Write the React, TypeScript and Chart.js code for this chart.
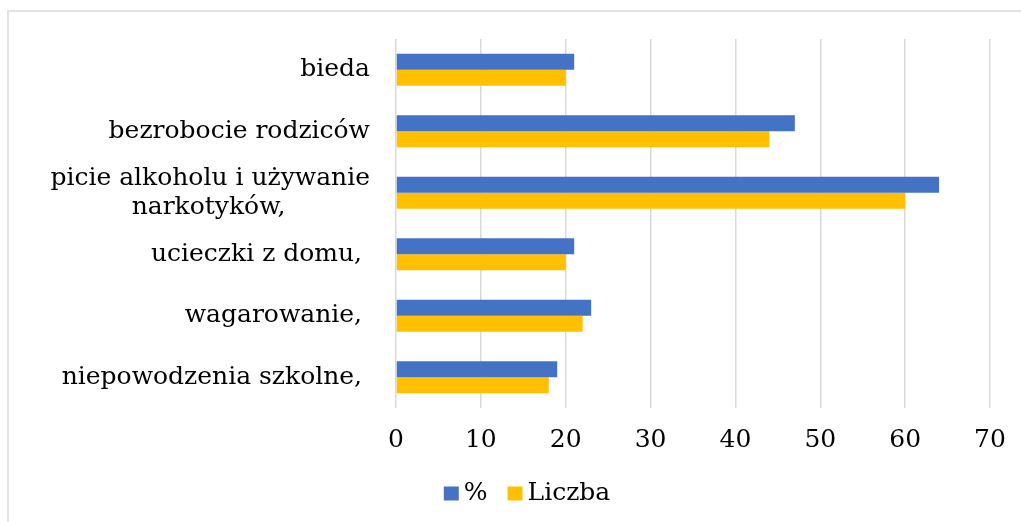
import React, { useEffect, useRef } from "react";
import { Chart, registerables } from "chart.js";

Chart.register(...registerables);

const categories: (string | string[])[] = [
  "bieda",
  "bezrobocie rodziców",
  ["picie alkoholu i używanie", "narkotyków,          \u2009"],
  "ucieczki z domu, ",
  "wagarowanie, ",
  "niepowodzenia szkolne, ",
];
const pctValues = [21, 47, 64, 21, 23, 19];
const countValues = [20, 44, 60, 20, 22, 18];
const seriesNames = ["%", "Liczba"];
const seriesColors = ["#4472C4", "#FFC000"];
const xTicks = [0, 10, 20, 30, 40, 50, 60, 70];

const FONT = "'DejaVu Serif', serif";

const legendPlugin = {
  id: "customLegend",
  afterDraw(chart: any) {
    const ctx = chart.ctx;
    ctx.save();
    ctx.font = `25px ${FONT}`;
    ctx.textBaseline = "middle";
    ctx.textAlign = "left";
    const boxW = 15;
    const boxH = 14;
    const gap = 5;
    const itemGap = 20;
    const items = chart.data.datasets.map((d: any) => ({
      text: d.label,
      color: d.backgroundColor,
      w: boxW + gap + ctx.measureText(d.label).width,
    }));
    const total = items.reduce((a: number, it: any) => a + it.w, 0) + itemGap * (items.length - 1);
    let x = 527 - total / 2;
    const cy = 493.5;
    for (const it of items) {
      ctx.fillStyle = it.color;
      ctx.fillRect(x, cy - boxH / 2, boxW, boxH);
      ctx.fillStyle = "#000";
      ctx.fillText(it.text, x + boxW + gap, cy);
      x += it.w + itemGap;
    }
    ctx.restore();
  },
};

export default function App() {
  const ref = useRef<HTMLCanvasElement | null>(null);
  useEffect(() => {
    if (!ref.current) return;
    const chart = new Chart(ref.current, {
      type: "bar",
      data: {
        labels: categories,
        datasets: [
          {
            label: seriesNames[0],
            data: pctValues,
            backgroundColor: seriesColors[0],
            categoryPercentage: 0.52,
            barPercentage: 1,
          },
          {
            label: seriesNames[1],
            data: countValues,
            backgroundColor: seriesColors[1],
            categoryPercentage: 0.52,
            barPercentage: 1,
          },
        ],
      },
      plugins: [legendPlugin],
      options: {
        indexAxis: "y",
        animation: false,
        responsive: false,
        maintainAspectRatio: false,
        layout: { padding: { left: 0, top: 39, right: 31, bottom: 0 } },
        plugins: {
          tooltip: { enabled: false },
          legend: { display: false },
        },
        scales: {
          x: {
            min: 0,
            max: 70,
            afterBuildTicks: (s: any) => {
              s.ticks = xTicks.map((v) => ({ value: v }));
            },
            afterFit: (s: any) => {
              s.height = 114;
              s.paddingLeft = 0;
              s.paddingRight = 0;
            },
            grid: { color: "#d9d9d9", lineWidth: 1.5, drawTicks: false },
            border: { display: false },
            ticks: {
              font: { family: FONT, size: 25 },
              color: "#000",
              padding: 17,
            },
          },
          y: {
            grid: { display: false, drawTicks: false },
            border: { display: false },
            afterFit: (s: any) => {
              s.width = 396;
              s.paddingTop = 0;
              s.paddingBottom = 0;
            },
            ticks: {
              font: { family: FONT, size: 25, lineHeight: 1.16 },
              color: "#000",
              padding: 26,
              autoSkip: false,
            },
          },
        },
      },
    });
    return () => chart.destroy();
  }, []);
  return (
    <div style={{ position: "fixed", left: 0, top: 0, width: 1021, height: 522, overflow: "hidden", background: "#fff" }}>
      <div
        style={{
          position: "absolute",
          left: 7,
          top: 10,
          width: 1100,
          height: 600,
          borderTop: "2px solid #e3e3e3",
          borderLeft: "2px solid #e3e3e3",
        }}
      />
      <canvas ref={ref} width={1021} height={522} style={{ position: "absolute", left: 0, top: 0 }} />
    </div>
  );
}
